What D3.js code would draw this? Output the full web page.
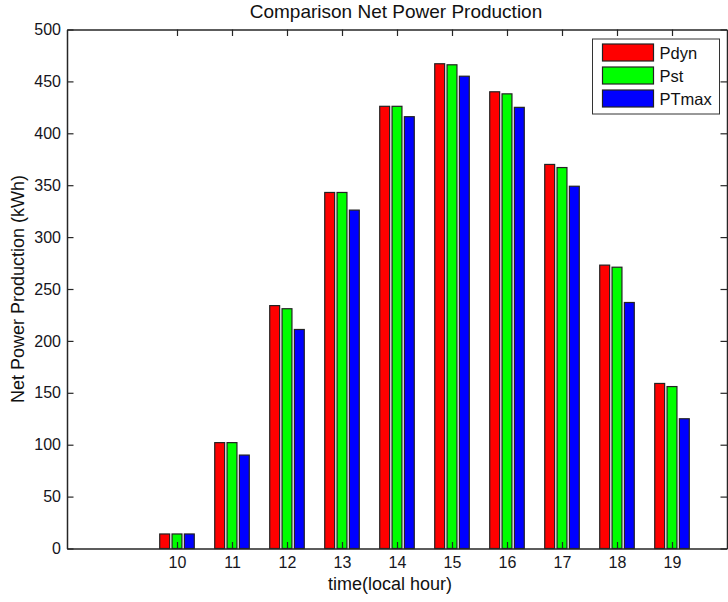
<!DOCTYPE html>
<html>
<head>
<meta charset="utf-8">
<script src="https://cdn.jsdelivr.net/npm/d3@7/dist/d3.min.js"></script>
<style>
  html, body { margin: 0; padding: 0; background: #fff; }
  svg { display: block; font-family: "Liberation Sans", Arial, sans-serif; }
</style>
</head>
<body>
<svg id="chart" width="728" height="602"></svg>
<script>
// Hourly net power production (kWh) for three control strategies
const hours = [10, 11, 12, 13, 14, 15, 16, 17, 18, 19];
const pdyn  = [14, 102, 234, 343, 426, 467, 440, 370, 273, 159];
const pst   = [14, 102, 231, 343, 426, 466, 438, 367, 271, 156];
const ptmax = [14,  90, 211, 326, 416, 455, 425, 349, 237, 125];
const seriesNames = ["Pdyn", "Pst", "PTmax"];
const seriesColors = ["#ff0000", "#00ff00", "#0000ff"];
const yTicks = [0, 50, 100, 150, 200, 250, 300, 350, 400, 450, 500];

const series = [pdyn, pst, ptmax];

const svg = d3.select("#chart");
const margin = { left: 67, right: 1, top: 29.5, bottom: 53.5 };
const W = 728, H = 602;
const x0 = margin.left, x1 = W - margin.right;
const y0 = H - margin.bottom, y1 = margin.top;

const x = d3.scaleLinear().domain([8, 20]).range([x0, x1]);
const y = d3.scaleLinear().domain([0, 500]).range([y0, y1]);

const step = x(1) - x(0);
const barOffset = step * 0.224;
const barW = step * 0.18;

// bars
const g = svg.append("g");
series.forEach((vals, si) => {
  g.selectAll(null)
    .data(hours.map((h, i) => ({ h, v: vals[i] })))
    .enter().append("rect")
    .attr("x", d => x(d.h) + (si - 1) * barOffset - barW / 2)
    .attr("y", d => y(d.v))
    .attr("width", barW)
    .attr("height", d => y(0) - y(d.v))
    .attr("fill", seriesColors[si])
    .attr("stroke", "#222")
    .attr("stroke-width", 1.2);
});

// axes (boxed, ticks pointing inward)
const tickLen = 6.5;
const axisColor = "#262626";
const textColor = "#151520";

const xAxisB = d3.axisBottom(x).tickValues(hours).tickSizeInner(-tickLen).tickSizeOuter(0).tickPadding(8);
const xAxisT = d3.axisTop(x).tickValues(hours).tickSizeInner(-tickLen).tickSizeOuter(0).tickFormat("");
const yAxisL = d3.axisLeft(y).tickValues(yTicks).tickSizeInner(-tickLen).tickSizeOuter(0).tickPadding(6);
const yAxisR = d3.axisRight(y).tickValues(yTicks).tickSizeInner(-tickLen).tickSizeOuter(0).tickFormat("");

function style(sel) {
  sel.select(".domain").attr("stroke", axisColor).attr("stroke-width", 1.5);
  sel.selectAll(".tick line").attr("stroke", axisColor).attr("stroke-width", 1.2);
  sel.selectAll(".tick text").attr("fill", textColor).style("font-size", "16px")
    .style("font-family", "'Liberation Sans', Arial, sans-serif");
}

svg.append("g").attr("transform", `translate(0,${y0})`).call(xAxisB).call(style);
svg.append("g").attr("transform", `translate(0,${y1})`).call(xAxisT).call(style);
svg.append("g").attr("transform", `translate(${x0},0)`).call(yAxisL).call(style);
svg.append("g").attr("transform", `translate(${x1},0)`).call(yAxisR).call(style);

// titles
svg.append("text")
  .attr("x", (x0 + x1) / 2 - 1).attr("y", 18)
  .attr("text-anchor", "middle")
  .attr("fill", "#111").style("font-size", "19px")
  .text("Comparison Net Power Production");

svg.append("text")
  .attr("x", (x0 + x1) / 2 - 7).attr("y", 590)
  .attr("text-anchor", "middle")
  .attr("fill", "#111").style("font-size", "18px")
  .text("time(local hour)");

svg.append("text")
  .attr("transform", `translate(24,${(y0 + y1) / 2}) rotate(-90)`)
  .attr("text-anchor", "middle")
  .attr("fill", "#111").style("font-size", "18px")
  .text("Net Power Production (kWh)");

// legend
const lg = svg.append("g").attr("transform", "translate(592.5,39)");
lg.append("rect").attr("width", 127).attr("height", 75)
  .attr("fill", "#fff").attr("stroke", "#333").attr("stroke-width", 1);
seriesNames.forEach((name, i) => {
  const row = lg.append("g").attr("transform", `translate(10,${5 + i * 23})`);
  row.append("rect").attr("width", 51).attr("height", 17)
    .attr("fill", seriesColors[i]).attr("stroke", "#222").attr("stroke-width", 1.2);
  row.append("text").attr("x", 57).attr("y", 15)
    .attr("fill", "#111").style("font-size", "16.5px").text(name);
});
</script>
</body>
</html>
